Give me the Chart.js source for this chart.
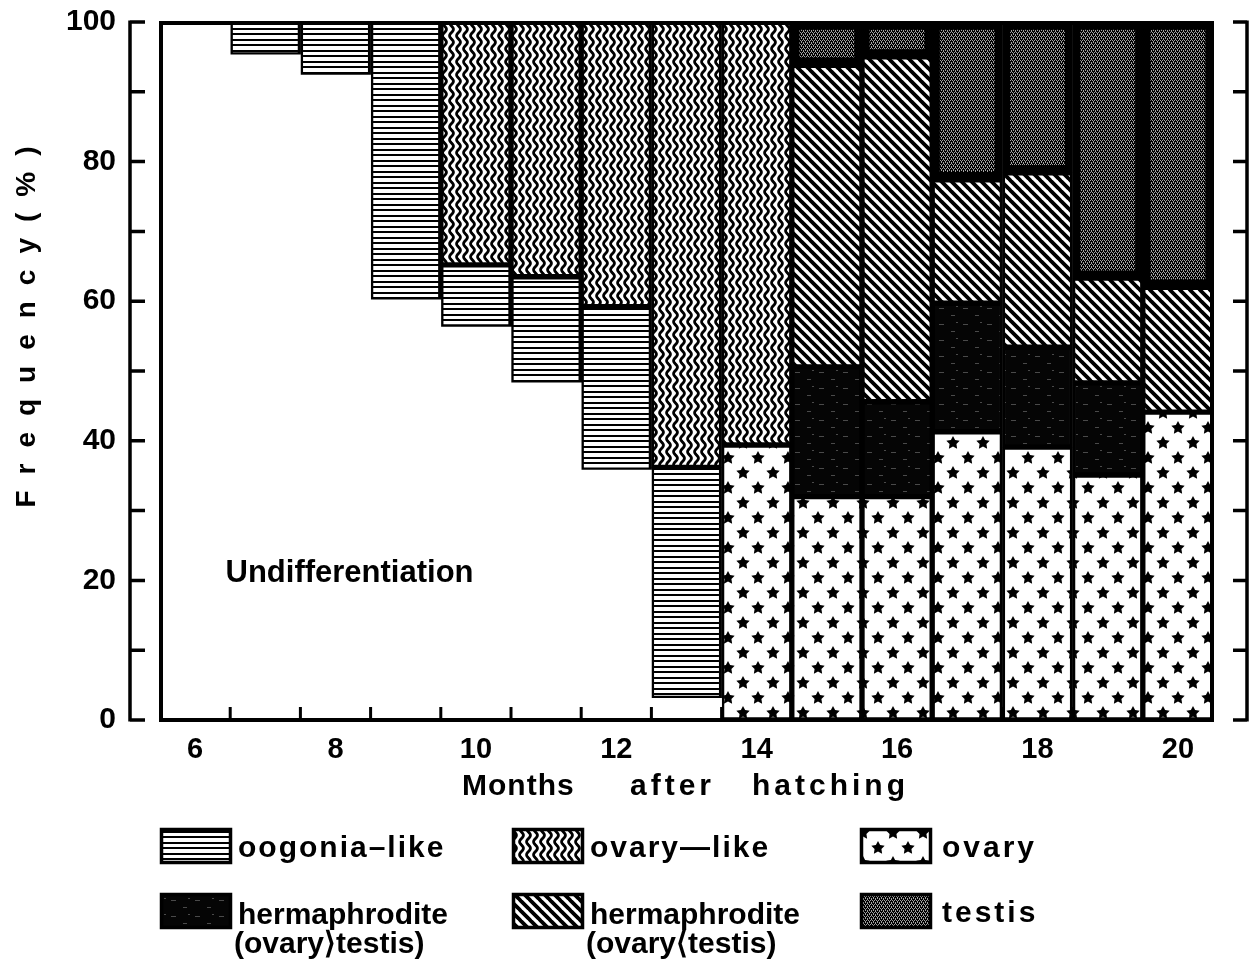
<!DOCTYPE html>
<html>
<head>
<meta charset="utf-8">
<script src="https://cdn.jsdelivr.net/npm/chart.js@4.4.1/dist/chart.umd.min.js"></script>
<style>
  html, body { margin: 0; padding: 0; background: #fff; }
  #wrap { width: 1250px; height: 970px; }
</style>
</head>
<body>
<div id="wrap"><canvas id="sexChart" width="1250" height="970"></canvas></div>
<script>
// months after hatching, one bar each
const months = [6, 7, 8, 9, 10, 11, 12, 13, 14, 15, 16, 17, 18, 19, 20];
const yTicks = [0, 20, 40, 60, 80, 100];

// frequency (%) of each gonad stage
const undiff     = [100, 95.3, 92.4, 60.2, 56.3, 48.3, 35.8, 3.1, null, null, null, null, null, null, null];
const ovary      = [null, null, null, null, null, null, null, null, 39.4, 32.0, 32.0, 41.3, 39.1, 35.1, 44.1];
const oogonia    = [null, 4.7, 7.6, 39.8, 8.9, 15.2, 23.4, 33.1, null, null, null, null, null, null, null];
const ovaryLike  = [null, null, null, null, 34.8, 36.5, 40.8, 63.8, 60.6, null, null, null, null, null, null];
const hermOvary  = [null, null, null, null, null, null, null, null, null, 18.6, 13.6, 18.4, 14.3, 13.2, null];
const hermTestis = [null, null, null, null, null, null, null, null, null, 43.2, 49.4, 17.7, 25.0, 15.0, 17.9];
const testis     = [null, null, null, null, null, null, null, null, null, 6.2, 5.0, 22.6, 21.6, 36.7, 38.0];

const FONT = "'Liberation Sans', Arial, Helvetica, sans-serif";
const canvas = document.getElementById('sexChart');
const mainCtx = canvas.getContext('2d');

function makePattern(w, h, draw) {
    const c = document.createElement('canvas');
    c.width = w; c.height = h;
    const g = c.getContext('2d');
    draw(g, w, h);
    return mainCtx.createPattern(c, 'repeat');
}

function star(g, cx, cy, ro, ri) {
    g.beginPath();
    for (let i = 0; i < 10; i++) {
        const r = i % 2 ? ri : ro;
        const a = -Math.PI / 2 + i * Math.PI / 5;
        g.lineTo(cx + r * Math.cos(a), cy + r * Math.sin(a));
    }
    g.closePath();
    g.fill();
}

const patHoriz = makePattern(8, 11, (g, w, h) => {
    g.fillStyle = '#fff'; g.fillRect(0, 0, w, h);
    g.fillStyle = '#000'; g.fillRect(0, 0, w, 2); g.fillRect(0, 6, w, 2);
});

const patWavy = makePattern(7, 13, (g, w, h) => {
    g.fillStyle = '#fff'; g.fillRect(0, 0, w, h);
    g.strokeStyle = '#000'; g.lineWidth = 2.8;
    g.beginPath();
    for (let y = -2; y <= h + 2; y += 0.5) {
        const x = 3.5 + 1.9 * Math.sin(y / h * 2 * Math.PI);
        if (y === -2) g.moveTo(x, y); else g.lineTo(x, y);
    }
    g.stroke();
});

const patStars = makePattern(30, 30, (g, w, h) => {
    g.fillStyle = '#fff'; g.fillRect(0, 0, w, h);
    g.fillStyle = '#000';
    star(g, 8, 8, 7, 3.6);
    star(g, 23, 23, 7, 3.6);
});

const patDiag = makePattern(10, 10, (g, w, h) => {
    g.fillStyle = '#fff'; g.fillRect(0, 0, w, h);
    g.strokeStyle = '#000'; g.lineWidth = 3.8;
    g.beginPath();
    [-10, 0, 10].forEach(o => { g.moveTo(o - 1, -1); g.lineTo(o + 11, 11); });
    g.stroke();
});

const patHermO = makePattern(24, 16, (g, w, h) => {
    g.fillStyle = '#050505'; g.fillRect(0, 0, w, h);
    g.fillStyle = '#4a4a4a';
    g.fillRect(3, 4, 5, 1); g.fillRect(15, 11, 4, 1); g.fillRect(20, 2, 2, 1);
});

const patTestis = makePattern(4, 4, (g, w, h) => {
    g.fillStyle = '#000'; g.fillRect(0, 0, w, h);
    g.fillStyle = '#a2a2a2';
    g.fillRect(0, 0, 1, 1); g.fillRect(2, 0, 1, 1); g.fillRect(1, 2, 1, 1); g.fillRect(3, 2, 1, 1);
    g.fillRect(1, 1, 1, 1); g.fillRect(3, 3, 1, 1);
});

const legendItems = [
    { fill: patHoriz,  lines: ['oogonia\u2013like'], col: 0, row: 0, spacing: 2 },
    { fill: patWavy,   lines: ['ovary\u2014like'], col: 1, row: 0, spacing: 2 },
    { fill: patStars,  lines: ['ovary'], col: 2, row: 0, spacing: 3 },
    { fill: patHermO,  lines: ['hermaphrodite', '(ovary\u27E9testis)'], col: 0, row: 1, spacing: 0 },
    { fill: patDiag,   lines: ['hermaphrodite', '(ovary\u27E8testis)'], col: 1, row: 1, spacing: 0 },
    { fill: patTestis, lines: ['testis'], col: 2, row: 1, spacing: 3 }
];

const decorPlugin = {
    id: 'decor',
    afterDatasetsDraw(chart) {
        const { ctx, chartArea: a, scales: { x, y } } = chart;
        ctx.save();
        ctx.strokeStyle = '#000';
        ctx.lineCap = 'butt';

        // frame round the bars
        ctx.lineWidth = 4;
        ctx.strokeRect(a.left + 1, a.top + 1, a.right - a.left - 2, a.bottom - a.top - 1);

        // x ticks between the bars, pointing up
        ctx.lineWidth = 3;
        ctx.beginPath();
        for (let i = 1; i < months.length; i++) {
            const px = (x.getPixelForValue(i - 1) + x.getPixelForValue(i)) / 2;
            ctx.moveTo(px, a.bottom);
            ctx.lineTo(px, a.bottom - 13);
        }
        ctx.stroke();

        // detached left and right y axes
        const lx = a.left - 30, rx = a.right + 34;
        ctx.lineWidth = 3.5;
        ctx.beginPath();
        ctx.moveTo(lx, y.getPixelForValue(0) + 1.5);
        ctx.lineTo(lx, y.getPixelForValue(100) - 1.5);
        ctx.moveTo(rx, y.getPixelForValue(0) + 1.5);
        ctx.lineTo(rx, y.getPixelForValue(100) - 1.5);
        for (let v = 0; v <= 100; v += 10) {
            const py = y.getPixelForValue(v);
            ctx.moveTo(lx, py); ctx.lineTo(lx + 15, py);
            ctx.moveTo(rx, py); ctx.lineTo(rx - 14, py);
        }
        ctx.stroke();
        ctx.restore();
    },
    afterDraw(chart) {
        const { ctx, chartArea: a, scales: { x, y } } = chart;
        ctx.save();
        ctx.fillStyle = '#000';
        ctx.textBaseline = 'middle';

        // label inside the empty area
        ctx.font = 'bold 31px ' + FONT;
        ctx.textAlign = 'center';
        ctx.fillText('Undifferentiation', x.getPixelForValue(2.2), y.getPixelForValue(21));

        // y title, letter spaced
        ctx.save();
        ctx.translate(27, a.top + (a.bottom - a.top) * 0.437);
        ctx.rotate(-Math.PI / 2);
        ctx.font = 'bold 28px ' + FONT;
        ctx.letterSpacing = '16px';
        ctx.fillText('Frequency(%)', 8, 0);
        ctx.restore();

        // x title
        ctx.font = 'bold 30px ' + FONT;
        ctx.textAlign = 'left';
        const ty = a.bottom + 67;
        ctx.letterSpacing = '1px';
        ctx.fillText('Months', a.left + 302, ty);
        ctx.letterSpacing = '4px';
        ctx.fillText('after', a.left + 470, ty);
        ctx.fillText('hatching', a.left + 592, ty);

        // legend
        const colX = [160, 512, 860];
        const rowY = [828, 893];
        legendItems.forEach(it => {
            const sx = colX[it.col], sy = rowY[it.row];
            ctx.fillStyle = it.fill;
            ctx.fillRect(sx, sy, 72, 36);
            ctx.strokeStyle = '#000';
            ctx.lineWidth = 3.5;
            ctx.strokeRect(sx + 1.5, sy + 1.5, 69, 33);
            ctx.fillStyle = '#000';
            ctx.font = 'bold 30px ' + FONT;
            ctx.letterSpacing = it.spacing + 'px';
            const tx = sx + (it.col === 2 ? 82 : 78);
            if (it.lines.length === 1) {
                ctx.fillText(it.lines[0], tx, sy + 21);
            } else {
                ctx.fillText(it.lines[0], tx, sy + 23);
                ctx.fillText(it.lines[1], tx - 4, sy + 52);
            }
        });
        ctx.restore();
    }
};

function segment(label, data, fill, bw) {
    return {
        label: label,
        data: data,
        backgroundColor: fill,
        borderColor: '#000',
        borderWidth: bw,
        borderSkipped: false,
        barPercentage: 1.0,
        categoryPercentage: 1.0
    };
}

new Chart(mainCtx, {
    type: 'bar',
    data: {
        labels: months.map(String),
        datasets: [
            segment('Undifferentiation', undiff, '#fff', 0),
            segment('ovary', ovary, patStars, 3),
            segment('oogonia-like', oogonia, patHoriz, 3),
            segment('ovary-like', ovaryLike, patWavy, 3),
            segment('hermaphrodite (ovary>testis)', hermOvary, patHermO, 3),
            segment('hermaphrodite (ovary<testis)', hermTestis, patDiag, 3),
            segment('testis', testis, patTestis, 8)
        ]
    },
    options: {
        responsive: false,
        animation: false,
        devicePixelRatio: 1,
        layout: { padding: { top: 22, right: 37, left: 0, bottom: 0 } },
        plugins: {
            legend: { display: false },
            tooltip: { enabled: false }
        },
        scales: {
            x: {
                stacked: true,
                grid: { display: false, drawTicks: false },
                border: { display: false },
                ticks: {
                    autoSkip: false,
                    maxRotation: 0,
                    padding: 13,
                    color: '#000',
                    font: { family: FONT, size: 29, weight: 'bold' },
                    callback: function (val) {
                        const m = Number(this.getLabelForValue(val));
                        return m % 2 === 0 ? String(m) : '';
                    }
                },
                afterFit: s => { s.height = 250; }
            },
            y: {
                stacked: true,
                min: 0,
                max: 100,
                // grid hidden; the tick length only sets the label offset
                grid: { display: false, drawTicks: true, tickLength: 44 },
                border: { display: false },
                afterBuildTicks: s => { s.ticks = yTicks.map(v => ({ value: v })); },
                ticks: {
                    padding: 0,
                    color: '#000',
                    font: { family: FONT, size: 30, weight: 'bold' }
                },
                afterFit: s => { s.width = 160; }
            }
        }
    },
    plugins: [decorPlugin]
});
</script>
</body>
</html>
